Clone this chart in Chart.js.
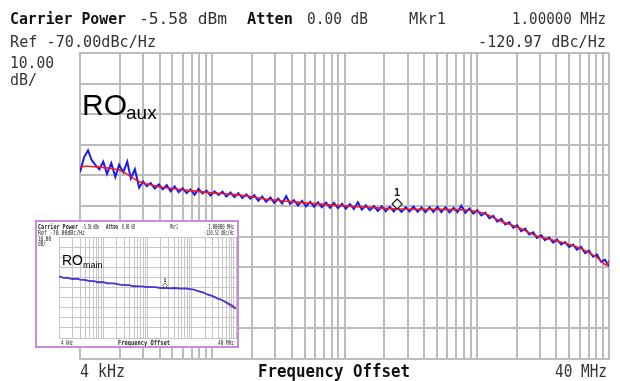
<!DOCTYPE html>
<html><head><meta charset="utf-8">
<script src="https://cdn.jsdelivr.net/npm/chart.js@4/dist/chart.umd.min.js"></script>
<style>
html,body{margin:0;padding:0;background:#fff;}
#wrap{position:relative;width:620px;height:381px;overflow:hidden;}
#main{position:absolute;left:0;top:0;}
#insetBox{position:absolute;left:35px;top:220px;width:204px;height:128px;border:2px solid #c98ad8;box-sizing:border-box;background:#fff;}
#inset{display:block;}
</style></head><body>
<div id="wrap"><canvas id="main" width="620" height="381"></canvas>
<div id="insetBox"><canvas id="inset" width="200" height="124"></canvas></div></div>
<script>
// ---------- axis settings ----------
const FREQ_START = 4000;      // Hz
const FREQ_STOP = 40e6;       // Hz
const REF_LEVEL = -70;        // dBc/Hz (top)
const BOTTOM_LEVEL = -170;    // dBc/Hz (bottom, 10 div x 10 dB)
const xAxisLabels = ["4 kHz", "Frequency Offset", "40 MHz"];

// ---------- main (RO aux) trace: raw measurement ----------
const auxFreqKHz = [4, 4.3, 4.6, 4.9, 5.2, 5.6, 6, 6.4, 6.9, 7.4, 7.9, 8.5, 9.1, 9.7, 10.4, 11.2, 12, 12.8, 13.7, 14.7,
  15.8, 16.9, 18.1, 19.4, 20.8, 22.3, 23.9, 25.6, 27.4, 29.4, 31.5, 33.8, 36.2, 38.8, 41.6, 44.6, 47.8, 51.2, 54.9, 58.8,
  63, 67.6, 72.4, 77.6, 83.2, 89.2, 95.6, 102, 110, 118, 126, 135, 145, 155, 166, 178, 191, 205, 220, 235,
  252, 270, 290, 311, 333, 357, 383, 410, 440, 471, 505, 541, 580, 622, 667, 715, 766, 821, 880, 943,
  1000, 1080, 1160, 1240, 1330, 1430, 1530, 1640, 1760, 1880, 2020, 2160, 2320, 2490, 2670, 2860, 3060, 3280, 3520, 3770,
  4040, 4330, 4640, 4980, 5330, 5720, 6130, 6570, 7040, 7550, 8090, 8670, 9300, 9970, 10700, 11400, 12300, 13100, 14100, 15100,
  16200, 17400, 18600, 20000, 21400, 22900, 24600, 26400, 28200, 30300, 32500, 34800, 37300, 40000];
const auxNoise = [-109, -104, -101.8, -105, -106.5, -108, -105.5, -109.5, -106, -110.5, -106.5, -109, -105.5, -111, -108, -114, -112, -113.5, -112.5, -114.3,
  -113, -114.5, -113.2, -115.2, -113.6, -115.5, -114.2, -115.8, -114.6, -116.3, -114.4, -115.9, -115.0, -116.6, -115.2, -116.4, -115.3, -116.9, -115.6, -117.1,
  -115.8, -117.4, -116.2, -117.6, -116.5, -118.3, -116.9, -118.6, -117.2, -119.0, -117.6, -119.2, -116.8, -119.3, -118.1, -119.8, -118.3, -120.1, -118.6, -120.2,
  -118.8, -120.4, -118.9, -120.6, -119.0, -120.7, -119.3, -120.9, -119.4, -121.0, -118.8, -121.2, -119.8, -121.4, -120.0, -121.6, -120.1, -121.7, -120.3, -121.8,
  -120.5, -121.9, -120.4, -121.8, -120.2, -121.9, -120.5, -122.0, -120.4, -121.9, -120.3, -122.0, -120.4, -122.1, -120.6, -122.0, -119.9, -122.2, -120.8, -122.5,
  -121.4, -123.1, -122.2, -124.0, -123.2, -125.1, -124.2, -126.0, -125.3, -127.1, -126.3, -128.2, -127.4, -129.3, -128.6, -130.4, -129.6, -131.2, -130.3, -132.0,
  -131.0, -132.6, -131.8, -133.4, -132.6, -134.3, -133.4, -135.4, -134.6, -136.6, -135.9, -138.2, -137.6, -139.8];

// ---------- main (RO aux) trace: smoothed ----------
const auxSmoothFreqKHz = [4, 4.5, 5.6, 7, 8, 9, 10, 11, 12, 16, 20, 25, 32, 40, 57, 80, 104, 150, 219, 327, 592,
  1000, 1870, 3370, 4000, 4640, 5690, 8490, 11400, 17000, 24200, 32400, 38600, 40000];
const auxSmooth = [-107.2, -107.0, -107.3, -107.8, -108.3, -109.5, -110.8, -111.8, -112.5, -113.7, -114.3, -114.8, -115.3, -115.7, -116.2, -117.0, -117.8, -118.5, -119.1, -119.7, -120.4,
  -121.0, -121.1, -121.3, -121.8, -122.5, -124.4, -127.3, -129.8, -131.7, -133.8, -136.8, -139.3, -137.8];

// ---------- inset (RO main) ----------
const mainFreqKHz = [4, 5, 6, 8, 10, 12, 15, 20, 25, 30, 40, 50, 70, 100, 150, 200, 300, 400, 600, 800,
  1000, 1300, 1700, 2200, 3000, 3700, 4500, 5500, 7000, 9000, 12000, 15000, 20000, 25000, 32000, 40000];
const mainNoise = [-109.0, -110.4, -110.3, -111.6, -111.3, -112.3, -112.4, -113.7, -113.6, -114.8, -114.8, -115.9, -116.0, -117.4, -117.7, -118.8, -118.8, -119.7, -119.6, -120.5,
  -120.3, -120.9, -120.5, -121.1, -120.8, -121.6, -122.0, -123.7, -124.6, -126.9, -128.5, -130.7, -132.6, -135.2, -137.6, -140.9];
const mainSmoothFreqKHz = [4, 10, 40, 200, 1000, 3000, 5000, 10000, 20000, 38000, 40000];
const mainSmooth = [-109.5, -111.6, -115.0, -118.4, -120.5, -121.0, -122.8, -127.5, -132.8, -140.5, -139.0];

// ---------- header texts / marker ----------
const auxHeader = {carrier: "-5.58 dBm", atten: "0.00 dB", mkrFreq: "1.00000 MHz", ref: "Ref -70.00dBc/Hz", mkrVal: "-120.97 dBc/Hz"};
const mainHeader = {carrier: "-5.58 dBm", atten: "0.00 dB", mkrFreq: "1.00000 MHz", ref: "Ref -70.00dBc/Hz", mkrVal: "-120.52 dBc/Hz"};
const auxMarker = {freq: 1e6, value: -120.97};
const mainMarker = {freq: 1e6, value: -120.52};

// grid frequencies: start x n, per decade
function gridFreqs() {
  const out = [];
  for (let d = FREQ_START; d < FREQ_STOP; d *= 10) {
    for (let n = 1; n <= 10; n++) {
      const v = d * n;
      if (!out.some(o => Math.abs(o - v) / v < 1e-6)) out.push(v);
    }
  }
  return out;
}
const pts = (fk, vals) => fk.map((f, i) => ({x: f * 1000, y: vals[i]}));

function txt(ctx, s, x, y, font, w, align, color) {
  ctx.save();
  ctx.font = font;
  ctx.fillStyle = color || '#1c1c1c';
  ctx.textBaseline = 'alphabetic';
  ctx.textAlign = 'left';
  const m = ctx.measureText(s).width;
  const sx = w ? w / m : 1;
  const x0 = align === 'right' ? x - m * sx : (align === 'center' ? x - m * sx / 2 : x);
  ctx.translate(x0, y);
  ctx.scale(sx, 1);
  ctx.fillText(s, 0, 0);
  ctx.restore();
}

function makeScales(gridColor, gridWidth) {
  return {
    x: {
      type: 'logarithmic', min: FREQ_START, max: FREQ_STOP,
      afterBuildTicks: (scale) => { scale.ticks = gridFreqs().map(v => ({value: v})); },
      ticks: {display: false},
      grid: {color: gridColor, lineWidth: gridWidth, drawTicks: false},
      border: {display: true, color: gridColor, width: gridWidth}
    },
    y: {
      type: 'linear', min: BOTTOM_LEVEL, max: REF_LEVEL,
      ticks: {display: false, stepSize: 10},
      grid: {color: gridColor, lineWidth: gridWidth, drawTicks: false},
      border: {display: true, color: gridColor, width: gridWidth}
    }
  };
}

const mono = "'DejaVu Sans Mono', monospace";
const sans = "'Liberation Sans', Arial, sans-serif";

// ---------- main chart ----------
const mainOverlay = {
  id: 'mainOverlay',
  afterDraw(chart) {
    const ctx = chart.ctx;
    txt(ctx, "Carrier Power", 10, 24, "bold 16px " + mono, 116, null, '#111');
    txt(ctx, auxHeader.carrier, 139, 24, "16px " + mono, 88, null, '#333');
    txt(ctx, "Atten", 247, 24, "bold 16px " + mono, 46, null, '#111');
    txt(ctx, auxHeader.atten, 307, 24, "16px " + mono, 61, null, '#333');
    txt(ctx, "Mkr1", 409, 24, "16px " + mono, 37, null, '#333');
    txt(ctx, auxHeader.mkrFreq, 606, 24, "16px " + mono, 94, 'right', '#333');
    txt(ctx, auxHeader.ref, 10, 47, "16px " + mono, 146, null, '#333');
    txt(ctx, auxHeader.mkrVal, 606, 47, "16px " + mono, 128, 'right', '#333');
    txt(ctx, "10.00", 10, 68, "16px " + mono, 44, null, '#333');
    txt(ctx, "dB/", 10, 85, "16px " + mono, 27, null, '#333');
    txt(ctx, xAxisLabels[0], 80, 377, "17px " + mono, 45, null, '#333');
    txt(ctx, xAxisLabels[1], 258, 377, "bold 17px " + mono, 152, null, '#111');
    txt(ctx, xAxisLabels[2], 607, 377, "17px " + mono, 52, 'right', '#333');
    // RO aux label
    ctx.save();
    ctx.fillStyle = '#000';
    ctx.font = "30px " + sans;
    ctx.fillText("RO", 82, 115);
    ctx.font = "19px " + sans;
    ctx.fillText("aux", 126, 119);
    ctx.restore();
    // marker
    const px = chart.scales.x.getPixelForValue(auxMarker.freq);
    const py = chart.scales.y.getPixelForValue(auxMarker.value);
    ctx.save();
    ctx.beginPath();
    ctx.moveTo(px, py - 10); ctx.lineTo(px + 5, py - 5); ctx.lineTo(px, py); ctx.lineTo(px - 5, py - 5); ctx.closePath();
    ctx.fillStyle = '#fff'; ctx.fill();
    ctx.strokeStyle = '#222'; ctx.lineWidth = 1.2; ctx.stroke();
    ctx.restore();
    txt(ctx, "1", px, py - 13, "bold 11px " + mono, 0, 'center');
  }
};

new Chart(document.getElementById('main'), {
  type: 'line',
  data: {
    datasets: [
      {label: 'smooth', data: pts(auxSmoothFreqKHz, auxSmooth), borderColor: '#ee1c1c', borderWidth: 1.6,
       pointRadius: 0, cubicInterpolationMode: 'monotone', order: 0},
      {label: 'trace', data: pts(auxFreqKHz, auxNoise), borderColor: '#1a1af2', borderWidth: 2,
       pointRadius: 0, tension: 0, order: 1}
    ]
  },
  options: {
    responsive: false, animation: false, devicePixelRatio: 1,
    layout: {padding: {left: 80, right: 11, top: 53, bottom: 22}},
    plugins: {legend: {display: false}, tooltip: {enabled: false}},
    scales: makeScales('#bcbcbc', 2)
  },
  plugins: [mainOverlay]
});

// ---------- inset chart ----------
const insetOverlay = {
  id: 'insetOverlay',
  afterDraw(chart) {
    const ctx = chart.ctx;
    txt(ctx, "Carrier Power", 1, 7, "bold 7px " + mono, 40);
    txt(ctx, mainHeader.carrier, 45, 7, "7px " + mono, 17);
    txt(ctx, "Atten", 69, 7, "bold 7px " + mono, 12);
    txt(ctx, mainHeader.atten, 85, 7, "7px " + mono, 13);
    txt(ctx, "Mkr1", 133, 7, "7px " + mono, 8);
    txt(ctx, mainHeader.mkrFreq, 197, 7, "7px " + mono, 26, 'right');
    txt(ctx, mainHeader.ref, 1, 13, "7px " + mono, 47);
    txt(ctx, mainHeader.mkrVal, 197, 13, "7px " + mono, 30, 'right');
    txt(ctx, "10.00", 1, 18.5, "7px " + mono, 13);
    txt(ctx, "dB/", 1, 24, "7px " + mono, 8);
    txt(ctx, xAxisLabels[0], 24, 123, "7px " + mono, 12);
    txt(ctx, xAxisLabels[1], 81, 123, "bold 7px " + mono, 52);
    txt(ctx, xAxisLabels[2], 197, 123, "7px " + mono, 16, 'right');
    ctx.save();
    ctx.fillStyle = '#000';
    ctx.font = "14px " + sans;
    ctx.fillText("RO", 25, 43);
    ctx.font = "9px " + sans;
    ctx.fillText("main", 46, 46);
    ctx.restore();
    const px = chart.scales.x.getPixelForValue(mainMarker.freq);
    const py = chart.scales.y.getPixelForValue(mainMarker.value);
    ctx.save();
    ctx.beginPath();
    ctx.moveTo(px, py - 5); ctx.lineTo(px + 2.5, py - 2.5); ctx.lineTo(px, py); ctx.lineTo(px - 2.5, py - 2.5); ctx.closePath();
    ctx.fillStyle = '#fff'; ctx.fill();
    ctx.strokeStyle = '#444'; ctx.lineWidth = 0.8; ctx.stroke();
    ctx.restore();
    txt(ctx, "1", px, py - 6, "bold 5px " + mono, 0, 'center');
  }
};

new Chart(document.getElementById('inset'), {
  type: 'line',
  data: {
    datasets: [
      {label: 'trace', data: pts(mainFreqKHz, mainNoise), borderColor: '#4a36d6', borderWidth: 1.8,
       pointRadius: 0, tension: 0, order: 0},
      {label: 'smooth', data: pts(mainSmoothFreqKHz, mainSmooth), borderColor: '#e8323c', borderWidth: 1,
       pointRadius: 0, cubicInterpolationMode: 'monotone', order: 1}
    ]
  },
  options: {
    responsive: false, animation: false, devicePixelRatio: 1,
    layout: {padding: {left: 22, right: 1, top: 15, bottom: 8}},
    plugins: {legend: {display: false}, tooltip: {enabled: false}},
    scales: makeScales('#c6c6c6', 1)
  },
  plugins: [insetOverlay]
});
</script>
</body></html>
